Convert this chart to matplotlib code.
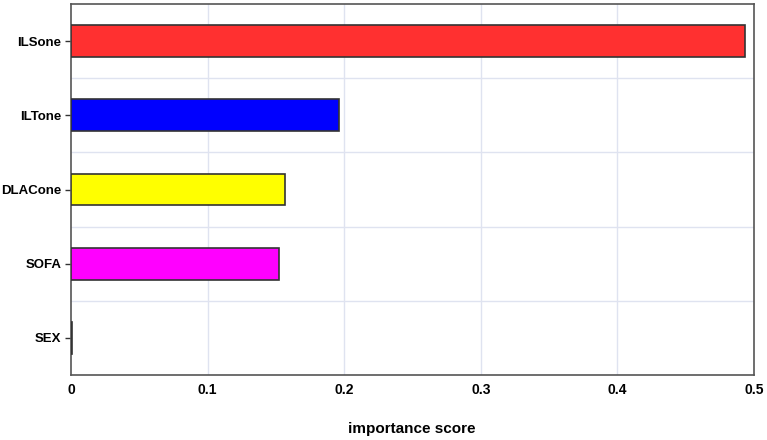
import matplotlib
matplotlib.use('Agg')
import matplotlib.pyplot as plt

# feature importance values
features = ['ILSone', 'ILTone', 'DLACone', 'SOFA', 'SEX']
scores = [0.4935, 0.196, 0.157, 0.152, 0.001]
colors = ['#ff3030', '#0000ff', '#ffff00', '#ff00ff', '#000000']

plt.rcParams['font.family'] = ['Liberation Sans', 'DejaVu Sans']

fig = plt.figure(figsize=(7.67, 4.40), dpi=100)
ax = fig.add_axes([71/767, 1-375/440, 683/767, 371/440])

pos = list(range(len(features)))
ax.barh(pos, scores, height=0.43, color=colors, edgecolor='#333333', linewidth=1.2, zorder=3)

ax.set_xlim(0, 0.5)
ax.set_ylim(len(features) - 0.5, -0.5)
ax.set_xticks([0, 0.1, 0.2, 0.3, 0.4, 0.5])
ax.set_xticklabels(['0', '0.1', '0.2', '0.3', '0.4', '0.5'], fontweight='bold', fontsize=10)
ax.set_yticks(pos)
ax.set_yticklabels(features, fontweight='bold', fontsize=9.5)
ax.tick_params(axis='y', length=4, width=1, color='#333333', pad=3)
ax.tick_params(axis='x', length=0, pad=6)

# grid: vertical lines at ticks, horizontal between categories
for x in [0.1, 0.2, 0.3, 0.4]:
    ax.axvline(x, color='#dfe3f0', linewidth=1, zorder=0)
for y in [0.5, 1.5, 2.5, 3.5]:
    ax.axhline(y, color='#dfe3f0', linewidth=1, zorder=0)

for s in ax.spines.values():
    s.set_color('#555555')
    s.set_linewidth(1.2)

fig.text(412/767, 1-429/440, 'importance score', ha='center', va='center',
         fontweight='bold', fontsize=11)

fig.savefig('out.png', dpi=100)
